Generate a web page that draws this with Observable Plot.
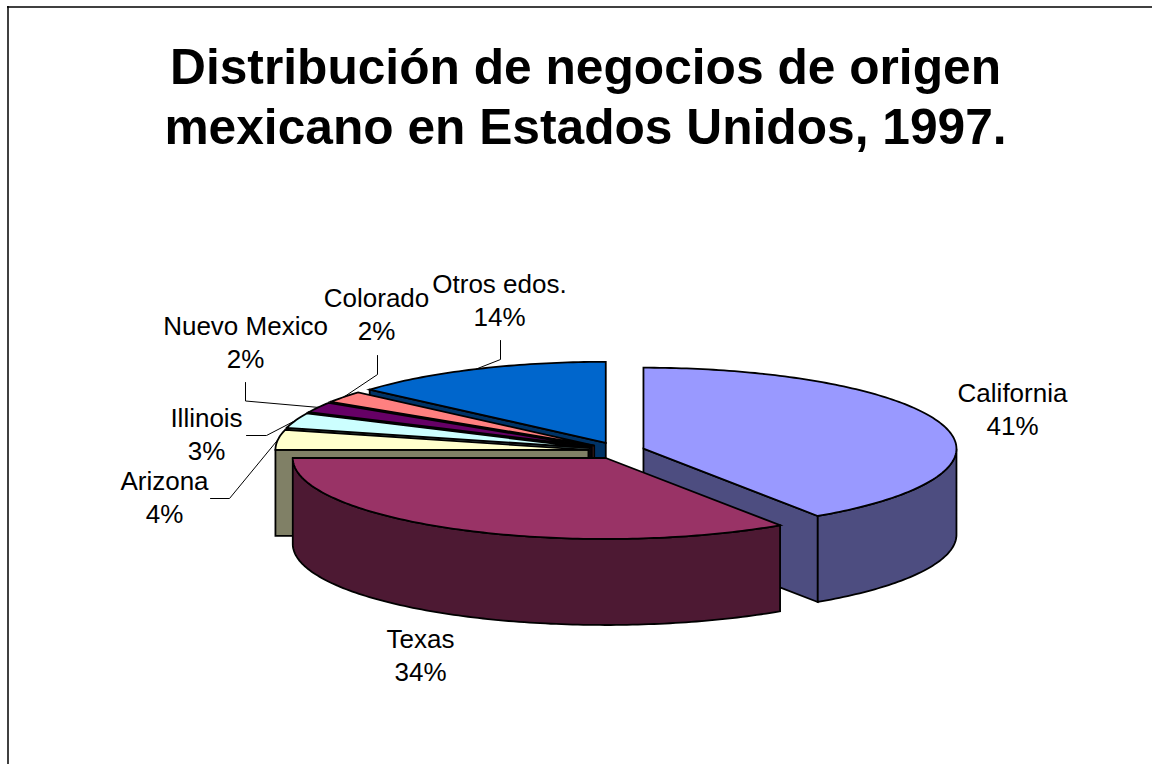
<!DOCTYPE html>
<html><head><meta charset="utf-8">
<script src="https://cdn.jsdelivr.net/npm/d3@7"></script>
<script src="https://cdn.jsdelivr.net/npm/@observablehq/plot@0.6"></script>
<style>html,body{margin:0;padding:0;background:#fff}svg{display:block}</style>
</head><body><div id="chart"></div>
<script>
const titleLines = ["Distribución de negocios de origen", "mexicano en Estados Unidos, 1997."];
const categories = ["California", "Texas", "Arizona", "Illinois", "Nuevo Mexico", "Colorado", "Otros edos."];
const shares = [40.6, 34.4, 4, 3, 2.1, 2.3, 13.6];
const percentLabels = ["41%", "34%", "4%", "3%", "2%", "2%", "14%"];
const topColors = ["#9999ff", "#993366", "#ffffcc", "#ccffff", "#660066", "#ff8080", "#0066cc"];
const sideColors = ["#4d4d80", "#4d1933", "#808066", "#668080", "#330033", "#804040", "#003366"];
const explodeBy = [26.4, 26.4, 30, 30, 30, 30, 30];

// Label layout: centre of the label, then the leader's start and elbow (null = no leader)
const labelX = [1012, 420, 164, 206, 245, 376, 499];
const labelY = [407, 653, 495, 432, 340, 312, 298];
const leaderStart = [null, null, [210, 498], [246, 435], [245, 382], [377, 355], [500, 340]];
const leaderElbow = [null, null, [229, 498], [266, 435], [245, 400.5], [377, 374], [500, 359]];

// Pie projection
const cx = 617.7, cy = 450.5, rx = 313, ry = 81, depth = 86, explodeTilt = 0.3;
const rad = (a) => a * Math.PI / 180;
const total = d3.sum(shares);
const cum = d3.cumsum(shares);
const slices = categories.map((name, i) => {
  const a0 = (cum[i] - shares[i]) / total * 360, a1 = cum[i] / total * 360, mid = (a0 + a1) / 2;
  return {name, i, a0, a1, mid,
    ax: cx + explodeBy[i] * Math.sin(rad(mid)),
    ay: cy - explodeBy[i] * explodeTilt * Math.cos(rad(mid))};
});
const rim = (s, a, dz = 0) => [s.ax + rx * Math.sin(rad(a)), s.ay - ry * Math.cos(rad(a)) + dz];
const arc = (s, a0, a1, dz = 0) => {
  const n = Math.max(2, Math.ceil(Math.abs(a1 - a0)));
  return d3.range(n + 1).map((k) => rim(s, a0 + (a1 - a0) * k / n, dz));
};
const poly = (pts, fill) => Plot.line(pts, {x: (d) => d[0], y: (d) => d[1], curve: "linear-closed",
  fill, stroke: "black", strokeWidth: 1.8, strokeLinejoin: "miter", strokeMiterlimit: 4});
const topFace = (s) => poly([[s.ax, s.ay], ...arc(s, s.a0, s.a1)], topColors[s.i]);
const cutFace = (s, a) => poly([[s.ax, s.ay], rim(s, a), rim(s, a, depth), [s.ax, s.ay + depth]], sideColors[s.i]);
const wall = (s, a0, a1) => poly([...arc(s, a0, a1), ...arc(s, a1, a0, depth)], sideColors[s.i]);

const [cal, tex, ...rest] = slices;
const backToFront = rest.slice().reverse();
const marks = [];
for (const s of backToFront) { marks.push(cutFace(s, s.a0), topFace(s)); }
marks.push(cutFace(cal, cal.a1), wall(cal, 90, cal.a1), topFace(cal));
marks.push(wall(tex, tex.a0, tex.a1), topFace(tex));

// Leaders run from the label to the middle of the slice's rim
slices.forEach((s, i) => {
  if (!leaderStart[i]) return;
  const pts = [leaderStart[i], leaderElbow[i], rim(s, s.mid)];
  marks.push(Plot.line(pts, {x: (d) => d[0], y: (d) => d[1], stroke: "black", strokeWidth: 1}));
});

// Frame
marks.push(Plot.ruleX([7.5], {y1: 6, y2: 764, stroke: "black", strokeWidth: 1.5}));
marks.push(Plot.ruleY([6.5], {x1: 7, x2: 1152, stroke: "black", strokeWidth: 1.5}));

// Labels
marks.push(Plot.text(slices, {x: (s) => labelX[s.i], y: (s) => labelY[s.i],
  text: (s) => `${s.name}\n${percentLabels[s.i]}`, fontSize: 26, lineHeight: 1.27, fill: "black", textAnchor: "middle"}));
marks.push(Plot.text(titleLines, {x: () => 585, y: (d, i) => [68, 128][i], text: (d) => d,
  fontSize: 49.7, fontWeight: "bold", fill: "black", textAnchor: "middle"}));

const chart = Plot.plot({
  width: 1152, height: 764, margin: 0,
  x: {domain: [0, 1152], range: [0, 1152], axis: null},
  y: {domain: [0, 764], range: [0, 764], axis: null},
  style: {fontFamily: "'Liberation Sans', Arial, sans-serif", background: "#fff"},
  marks
});
document.getElementById("chart").append(chart);
</script></body></html>
